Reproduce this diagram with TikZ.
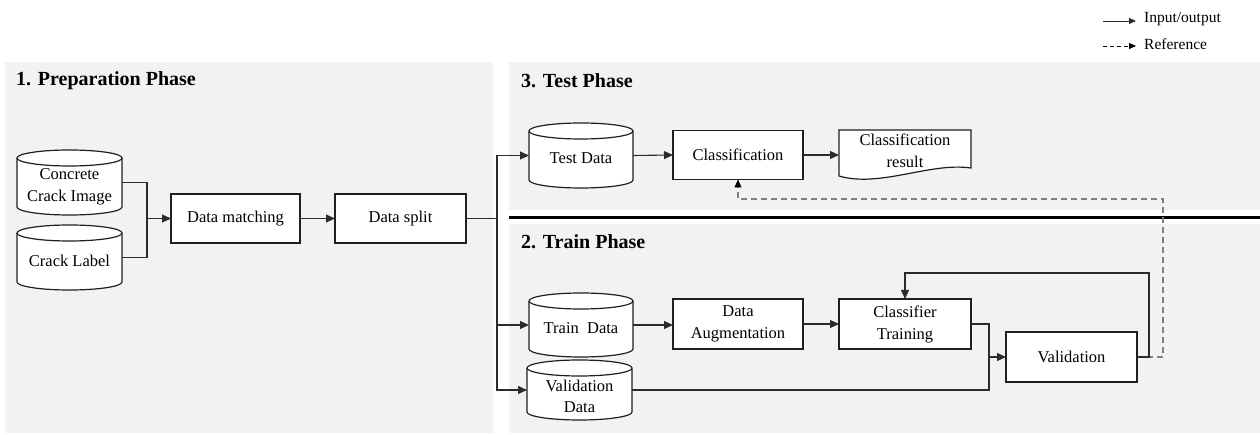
\documentclass[tikz,border=0pt]{standalone}
\usepackage{fontspec}
\setmainfont{Liberation Serif}
\usetikzlibrary{arrows.meta}
\pgfdeclarelayer{panel}
\pgfdeclarelayer{shape}
\pgfsetlayers{panel,shape,main}
\definecolor{panelgray}{HTML}{F2F2F2}
\definecolor{linecol}{HTML}{2B2B2B}
\definecolor{boxcol}{HTML}{1F1F1F}
\definecolor{refcol}{HTML}{808080}
\tikzset{
  nodefont/.style={font=\fontsize{16.5}{22}\selectfont},
  procbox/.style={draw=boxcol, line width=1.2pt, fill=white, inner sep=0pt, outer sep=0pt, align=center, nodefont},
  dbbox/.style={inner sep=0pt, outer sep=0pt},
  dbtext/.style={inner sep=0pt, align=center, nodefont},
  dbline/.style={draw=boxcol, line width=1.2pt},
  title/.style={anchor=west, inner sep=0pt, font=\bfseries\fontsize{20}{24}\selectfont},
  legtext/.style={anchor=west, inner sep=0pt, font=\fontsize{15.5}{18}\selectfont},
  flow/.style={draw=linecol, line width=1.1pt, -{Triangle[length=9pt,width=8pt]}},
  plain/.style={draw=linecol, line width=1.1pt},
  refline/.style={draw=refcol, line width=1.5pt, dash pattern=on 6pt off 4pt},
}
% name, cx, cy, width, height, text, text shift down
\newcommand\dbnode[7]{%
  \node[dbbox, minimum width=#4pt, minimum height=#5pt] (#1) at (#2,#3) {};
  \node[dbtext] (#1-t) at ([yshift=-#7pt]#1.center) {#6};
  \begin{pgfonlayer}{shape}
    \path[dbline, fill=white] ([yshift=-8pt]#1.north west) -- ([yshift=8pt]#1.south west)
      arc[start angle=180, end angle=360, x radius={#4pt/2}, y radius=8pt]
      -- ([yshift=-8pt]#1.north east)
      arc[start angle=0, end angle=180, x radius={#4pt/2}, y radius=8pt] -- cycle;
    \path[dbline] ([yshift=-8pt]#1.north west)
      arc[start angle=180, end angle=360, x radius={#4pt/2}, y radius=8pt];
  \end{pgfonlayer}}
\begin{document}
\begin{tikzpicture}[x=1pt, y=-1pt]
\useasboundingbox (0,0) rectangle (1260,435);
% panels
\begin{pgfonlayer}{panel}
  \fill[panelgray] (5,62) rectangle (493,433);
  \fill[panelgray] (509,62) rectangle (1260,210);
  \fill[panelgray] (509,224) rectangle (1260,433);
\end{pgfonlayer}
\draw[line width=3pt] (509,218) -- (1260,218);

% titles
\node[title] (t1) at (16,81) {1. Preparation Phase};
\node[title] (t3) at (521,81) {3. Test Phase};
\node[title] (t2) at (521,242) {2. Train Phase};

% legend
\coordinate (la1) at (1103,21);
\coordinate (lb1) at (1136,21);
\draw[plain, line width=0.9pt, -{Triangle[length=7pt,width=6pt]}] (la1) -- (lb1);
\node[legtext] (lt1) at (1144,19) {Input/output};
\coordinate (la2) at (1103,46);
\coordinate (lb2) at (1136,46);
\draw[draw=black, line width=0.8pt, dash pattern=on 4pt off 3pt, -{Triangle[length=7pt,width=6pt]}] (la2) -- (lb2);
\node[legtext] (lt2) at (1144,44) {Reference};

% preparation phase
\dbnode{cci}{69.5}{182.5}{105}{65}{Concrete\\Crack Image}{4.5}
\dbnode{cl}{69.5}{257.5}{105}{65}{Crack Label}{3.5}
\node[procbox, minimum width=129pt, minimum height=49pt] (dm) at (235.5,218.5) {Data matching};
\node[procbox, minimum width=131pt, minimum height=49pt] (ds) at (400.5,218.5) {Data split};

% test phase
\dbnode{td}{581}{155.5}{104}{65}{Test Data}{3}
\node[procbox, minimum width=130pt, minimum height=49pt] (cls) at (738,155) {Classification};
\node[dbbox, minimum width=132pt, minimum height=46pt] (cr) at (905,153) {};
\node[dbtext] (cr-t) at (905,151) {Classification\\result};
\begin{pgfonlayer}{shape}
  \path[dbline, fill=white] (cr.south west) -- (cr.north west) -- (cr.north east) -- (971,168)
    .. controls (930,162) and (880,188) .. (cr.south west) -- cycle;
\end{pgfonlayer}

% train phase
\dbnode{trd}{581}{325}{104}{64}{Train~ Data}{3}
\dbnode{vd}{579.5}{390}{105}{60}{Validation\\[-1pt]Data}{6}
\node[procbox, minimum width=130pt, minimum height=50pt] (da) at (738,324) {Data\\Augmentation};
\node[procbox, minimum width=132pt, minimum height=50pt] (ct) at (905,324) {Classifier\\Training};
\node[procbox, minimum width=131pt, minimum height=50pt] (val) at (1071.5,357) {Validation};

% connectors: preparation
\coordinate (j1) at (147,218.5);
\draw[plain] (cci.east) -| (j1) |- (cl.east);
\draw[flow] (j1) -- (dm.west);
\draw[flow] (dm.east) -- (ds.west);
\coordinate (sp) at (497,218.5);
\draw[plain] (ds.east) -- (sp);
\draw[flow] (sp) |- (td.west);
\draw[flow] (sp) |- (trd.west);
\draw[flow] (sp) |- (vd.west);

% test phase connectors
\draw[flow] (td.east) -- (cls.west);
\draw[flow] (cls.east) -- (cls.east -| cr.west);

% train phase connectors
\draw[flow] (trd.east) -- (trd.east -| da.west);
\draw[flow] (da.east) -- (ct.west);
\coordinate (j2) at (989,357);
\draw[plain] (ct.east) -| (j2) |- (vd.east);
\draw[flow] (j2) -- (val.west);

% reference (dashed) and feedback
\coordinate (rf) at (1163,199);
\draw[refline] (val.east) -| (rf) -| ([yshift=-7pt]cls.south);
\draw[draw=black, line width=1pt, -{Triangle[length=8pt,width=7pt]}] ([yshift=-7pt]cls.south) -- (cls.south);
\coordinate (fb) at (1149,273);
\draw[flow] (val.east) -| (fb) -| (ct.north);
\end{tikzpicture}
\end{document}
